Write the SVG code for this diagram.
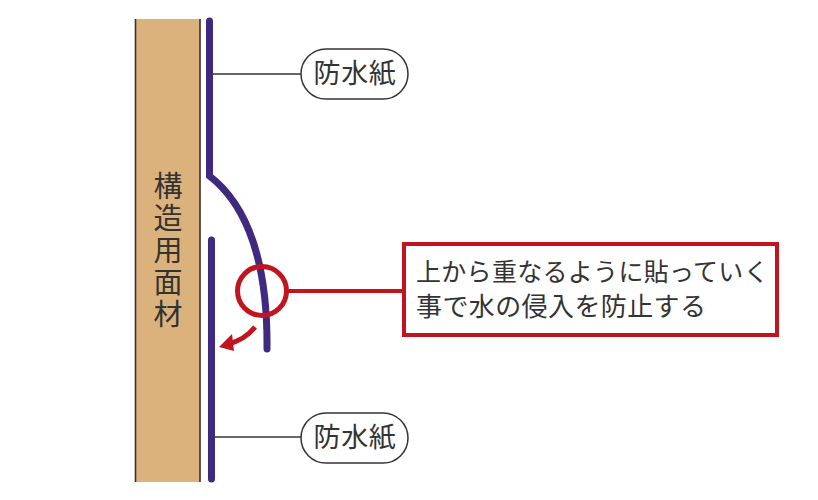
<svg xmlns="http://www.w3.org/2000/svg" width="818" height="500" viewBox="0 0 818 500">
<style>
.t{font-family:"Noto Sans CJK JP","Liberation Sans",sans-serif;fill:#333;}
.lbl{font-size:27px;letter-spacing:.6px;text-anchor:middle;}
.sheet{fill:none;stroke:#3f2a80;stroke-width:7;stroke-linecap:round;stroke-linejoin:miter;}
.lead{fill:none;stroke:#333;stroke-width:1.5;}
.red{fill:none;stroke:#c1141f;stroke-width:4;}
.pill{fill:#fff;stroke:#333;stroke-width:1.5;}
</style>
<rect width="818" height="500" fill="#fff"/>
<g id="wall">
<rect x="135.500" y="19" width="64.500" height="463" fill="#dcb27c"/>
<path d="M135.500 19V482M200 19V482" fill="none" stroke="#3a3028" stroke-width="1.600"/>
<text class="t" font-size="29" letter-spacing="3" style="writing-mode:vertical-rl" x="168" y="171">構造用面材</text>
</g>
<g id="connectors">
<path class="lead" d="M212 74H301"/>
<path class="lead" d="M212 437H301"/>
<path class="red" d="M288 291H404"/>
<path d="M255 327C248 336 240 341 228 344" fill="none" stroke="#c1141f" stroke-width="5"/>
<path d="M219 347L232 334L234 351Z" fill="#c1141f"/>
</g>
<g id="upper-sheet">
<path class="sheet" d="M209.500 21V176C238 198 268 245 267 349"/>
</g>
<g id="lower-sheet">
<path class="sheet" d="M211.500 240V479"/>
</g>
<g id="detail-circle">
<circle cx="262" cy="291" r="24.500" fill="none" stroke="#c1141f" stroke-width="5"/>
</g>
<g id="label-top">
<rect class="pill" x="301" y="49" width="107" height="50" rx="25"/>
<text class="t lbl" x="355" y="83">防水紙</text>
</g>
<g id="label-bottom">
<rect class="pill" x="301" y="413" width="107" height="50" rx="25"/>
<text class="t lbl" x="355" y="447">防水紙</text>
</g>
<g id="note">
<rect x="404" y="244" width="373" height="91" fill="#fff" stroke="#c1141f" stroke-width="4"/>
<text class="t" font-size="25" letter-spacing=".3" x="416" y="281">上から重なるように貼っていく</text>
<text class="t" font-size="26" letter-spacing=".4" x="416" y="316">事で水の侵入を防止する</text>
</g>
</svg>
